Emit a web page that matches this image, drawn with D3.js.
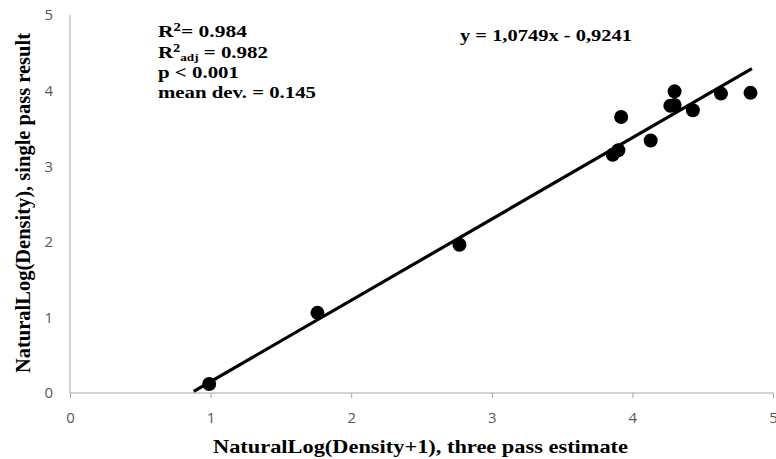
<!doctype html>
<html>
<head>
<meta charset="utf-8"/>
<title>NaturalLog density scatter</title>
<script src="https://d3js.org/d3.v7.min.js"></script>
<style>
body { margin:0; background:#fff; }
.tick text { font-family:"Open Sans", sans-serif; font-size:15px; fill:#595959; }
.lbl { font-family:"Liberation Serif", "Times New Roman", serif; font-weight:bold; fill:#000; }
</style>
</head>
<body>
<script type="text/javascript">
// data
var threePass  = [0.99, 1.76, 2.77, 3.86, 3.90, 3.92, 4.13, 4.27, 4.30, 4.30, 4.43, 4.63, 4.84];
var singlePass = [0.12, 1.06, 1.96, 3.15, 3.21, 3.65, 3.34, 3.80, 3.81, 3.99, 3.74, 3.96, 3.97];
var xTicks = [0, 1, 2, 3, 4, 5];
var yTicks = [0, 1, 2, 3, 4, 5];
var slope = 1.0749, intercept = -0.9241;
var fitRange = [0.88, 4.85];

var svg = d3.select("body").append("svg")
    .attr("width", 776)
    .attr("height", 459);

var x = d3.scaleLinear().domain([0, 5]).range([70, 773]);
var y = d3.scaleLinear().domain([0, 5]).range([393, 15]);

// axes
var xAxis = svg.append("g")
    .attr("transform", "translate(0," + y(0) + ")")
    .call(d3.axisBottom(x).tickValues(xTicks).tickSize(5).tickPadding(14).tickFormat(d3.format("d")));
xAxis.selectAll("line, path").attr("stroke", "#a6a6a6");
xAxis.select(".domain").attr("d", "M" + x(0) + ",0H" + x(5));

var yAxis = svg.append("g")
    .attr("transform", "translate(" + x(0) + ",0)")
    .call(d3.axisLeft(y).tickValues(yTicks).tickSize(0).tickPadding(17).tickFormat(d3.format("d")));
yAxis.selectAll("line, path").attr("stroke", "#a6a6a6");
yAxis.select(".domain").attr("d", "M0," + y(5) + "V" + y(0));

// regression line
svg.append("line")
    .attr("x1", x(fitRange[0])).attr("y1", y(slope * fitRange[0] + intercept))
    .attr("x2", x(fitRange[1])).attr("y2", y(slope * fitRange[1] + intercept))
    .attr("stroke", "#000").attr("stroke-width", 3.2);

// points
svg.selectAll("circle.pt")
    .data(threePass)
    .enter()
    .append("circle")
    .attr("class", "pt")
    .attr("cx", function(d){ return x(d); })
    .attr("cy", function(d, i){ return y(singlePass[i]); })
    .attr("r", 7)
    .attr("fill", "#000");

// stats text (the original is a bit wide, so widths are forced)
function statLine(yy, w) {
    return svg.append("text").attr("class", "lbl").attr("font-size", 17.5)
        .attr("x", 158).attr("y", yy)
        .attr("textLength", w).attr("lengthAdjust", "spacingAndGlyphs");
}
var s1 = statLine(37, 89);
s1.append("tspan").text("R");
s1.append("tspan").attr("font-size", 12).attr("dy", -6).text("2");
s1.append("tspan").attr("dy", 6).text("= 0.984");

var s2 = statLine(57.5, 110);
s2.append("tspan").text("R");
s2.append("tspan").attr("font-size", 12).attr("dy", -6).text("2");
s2.append("tspan").attr("font-size", 11).attr("dy", 9).text("adj");
s2.append("tspan").attr("dy", -3).text(" = 0.982");

statLine(78, 81).text("p < 0.001");
statLine(98, 158).text("mean dev. = 0.145");

svg.append("text").attr("class", "lbl").attr("font-size", 17.5)
    .attr("x", 460).attr("y", 41)
    .attr("textLength", 172).attr("lengthAdjust", "spacingAndGlyphs")
    .text("y = 1,0749x - 0,9241");

// axis titles
svg.append("text").attr("class", "lbl").attr("font-size", 19.5)
    .attr("x", 213).attr("y", 453)
    .attr("textLength", 415).attr("lengthAdjust", "spacingAndGlyphs")
    .text("NaturalLog(Density+1), three pass estimate");

svg.append("text").attr("class", "lbl").attr("font-size", 20)
    .attr("transform", "translate(30,373) rotate(-90)")
    .attr("textLength", 340).attr("lengthAdjust", "spacingAndGlyphs")
    .text("NaturalLog(Density), single pass result");
</script>
</body>
</html>
